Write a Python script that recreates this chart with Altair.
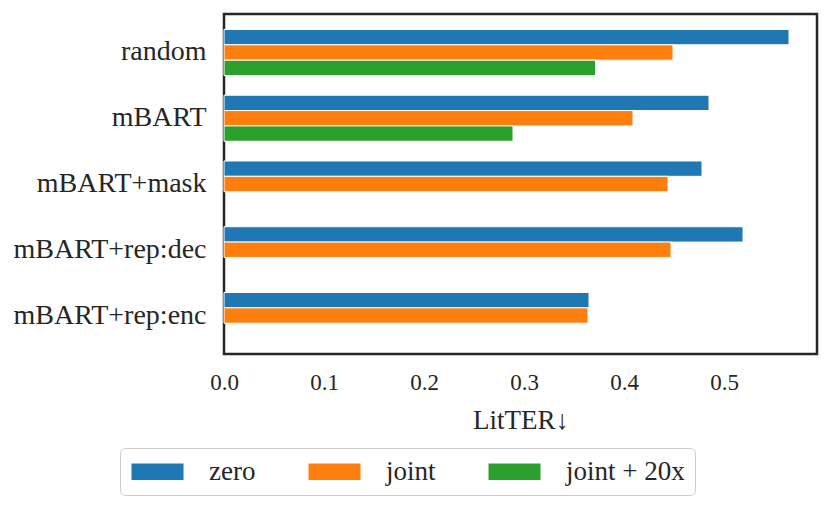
import altair as alt
import pandas as pd

categories = ["random", "mBART", "mBART+mask", "mBART+rep:dec", "mBART+rep:enc"]
series = ["zero", "joint", "joint + 20x"]
zero = [0.565, 0.485, 0.478, 0.519, 0.365]
joint = [0.449, 0.409, 0.444, 0.447, 0.364]
joint20 = [0.3715, 0.289, None, None, None]
colors = ["#1f77b4", "#ff7f0e", "#2ca02c"]
x_ticks = [0.0, 0.1, 0.2, 0.3, 0.4, 0.5]

rows = []
for s, vals in zip(series, [zero, joint, joint20]):
    for c, v in zip(categories, vals):
        if v is not None:
            rows.append({"model": c, "series": s, "value": v})
df = pd.DataFrame(rows)

FONT = "Liberation Serif"
TXT = "#262626"

chart = alt.Chart(df).mark_bar(stroke="white", strokeWidth=1).encode(
    x=alt.X("value:Q",
            scale=alt.Scale(domain=[0, 0.593], nice=False, zero=True),
            axis=alt.Axis(values=x_ticks, format=".1f", title="LitTER↓",
                          grid=False, domain=False, ticks=False,
                          labelFontSize=23, labelPadding=17, labelFont=FONT,
                          labelColor=TXT, titleFont=FONT, titleFontSize=27,
                          titleFontWeight="normal", titleColor=TXT,
                          titlePadding=13, labelFlush=False)),
    y=alt.Y("model:N", sort=categories,
            scale=alt.Scale(paddingInner=0.3, paddingOuter=0.235),
            axis=alt.Axis(title=None, grid=False, domain=False, ticks=False,
                          labelFontSize=28, labelPadding=18, labelFont=FONT,
                          labelColor=TXT, labelLimit=400)),
    yOffset=alt.YOffset("series:N", sort=series,
                        scale=alt.Scale(domain=series, paddingInner=0, paddingOuter=0)),
    color=alt.Color("series:N", sort=series,
                    scale=alt.Scale(domain=series, range=colors),
                    legend=alt.Legend(
                        title=None, orient="none", legendX=-104, legendY=434,
                        direction="horizontal", columns=3, columnPadding=50,
                        symbolType="M-1,-0.7H3.24V0.7H-1Z", symbolSize=625,
                        symbolStrokeColor="white", symbolStrokeWidth=1,
                        symbolOpacity=1,
                        labelFont=FONT, labelFontSize=27, labelColor=TXT,
                        labelOffset=52, padding=10, strokeColor="#cccccc",
                        cornerRadius=5, fillColor="white", labelLimit=300)),
).properties(
    width=593, height=340,
    autosize=alt.AutoSizeParams(type="none"),
    padding={"left": 216, "top": 6, "right": 6, "bottom": 150},
).configure(background="white").configure_view(stroke="#262626", strokeWidth=2.5)

chart.save("out.html", embed_options={"renderer": "svg", "actions": False})
